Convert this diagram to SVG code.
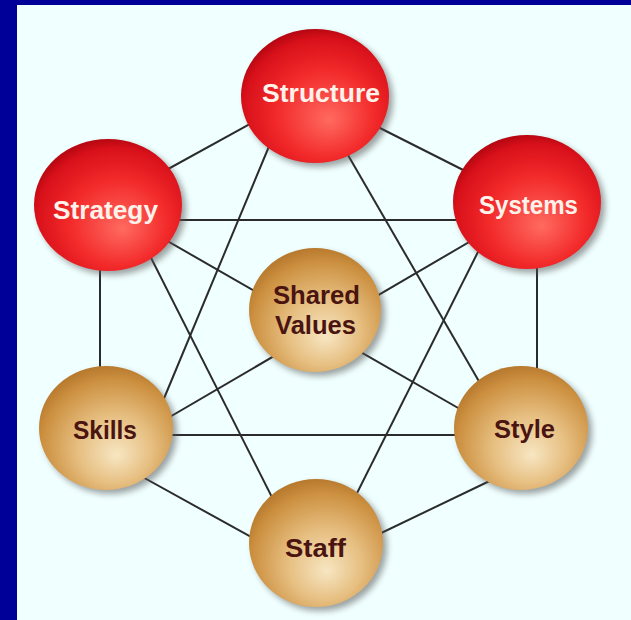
<svg xmlns="http://www.w3.org/2000/svg" width="631" height="620" viewBox="0 0 631 620">
<defs>
<style>
.conn line{stroke:#2b2b2b;stroke-width:2;stroke-linecap:butt}
.lbl{font-family:"Liberation Sans",Arial,sans-serif;font-weight:bold;font-size:26px;text-anchor:middle}
.red text{fill:#FFF2EA}
.brown text{fill:#4A1410}
.shadow{fill:#555;opacity:0.55;filter:url(#blur)}
</style>
<filter id="blur" x="-20%" y="-20%" width="140%" height="140%"><feGaussianBlur stdDeviation="3"/></filter>
<radialGradient id="gRed" cx="55%" cy="60%" r="60%" fx="60%" fy="68%">
<stop offset="0" stop-color="#FF6A60"/>
<stop offset="0.55" stop-color="#F22A2A"/>
<stop offset="0.9" stop-color="#D8101A"/>
<stop offset="1" stop-color="#B80812"/>
</radialGradient>
<radialGradient id="gBrown" cx="55%" cy="62%" r="62%" fx="58%" fy="72%">
<stop offset="0" stop-color="#F7E6C2"/>
<stop offset="0.45" stop-color="#E6BE80"/>
<stop offset="0.85" stop-color="#CC9040"/>
<stop offset="1" stop-color="#B87A2E"/>
</radialGradient>
</defs>
<rect x="0" y="0" width="631" height="620" fill="#000099"/>
<rect x="17" y="5" width="614" height="615" fill="#F0FFFF"/>
<g id="connectors" class="conn">
<line x1="270" y1="113" x2="150" y2="179"/>
<line x1="370" y1="123" x2="485" y2="181"/>
<line x1="150" y1="220" x2="490" y2="220"/>
<line x1="100" y1="240" x2="100" y2="400"/>
<line x1="537" y1="240" x2="537" y2="400"/>
<line x1="140" y1="435" x2="490" y2="435"/>
<line x1="130" y1="470" x2="280" y2="553"/>
<line x1="500" y1="476" x2="350" y2="548"/>
<line x1="280" y1="120" x2="150" y2="432"/>
<line x1="330" y1="124" x2="495" y2="409"/>
<line x1="140" y1="236" x2="285" y2="523"/>
<line x1="490" y1="228" x2="340" y2="527"/>
<line x1="150" y1="231" x2="486" y2="424"/>
<line x1="488" y1="231" x2="144" y2="432"/>
</g>
<g id="structure" class="red">
<ellipse class="shadow" cx="319" cy="100" rx="74" ry="67"/>
<ellipse cx="315" cy="96" rx="74" ry="67" fill="url(#gRed)"/>
<text class="lbl" x="321" y="102" textLength="118" lengthAdjust="spacingAndGlyphs">Structure</text>
</g>
<g id="strategy" class="red">
<ellipse class="shadow" cx="112" cy="209" rx="74" ry="66"/>
<ellipse cx="108" cy="205" rx="74" ry="66" fill="url(#gRed)"/>
<text class="lbl" x="105.5" y="219" textLength="105" lengthAdjust="spacingAndGlyphs">Strategy</text>
</g>
<g id="systems" class="red">
<ellipse class="shadow" cx="531" cy="206" rx="74" ry="67"/>
<ellipse cx="527" cy="202" rx="74" ry="67" fill="url(#gRed)"/>
<text class="lbl" x="528.5" y="214" textLength="99" lengthAdjust="spacingAndGlyphs">Systems</text>
</g>
<g id="shared-values" class="brown">
<ellipse class="shadow" cx="319" cy="314" rx="66" ry="62"/>
<ellipse cx="315" cy="310" rx="66" ry="62" fill="url(#gBrown)"/>
<text class="lbl" x="316.5" y="304" textLength="87" lengthAdjust="spacingAndGlyphs">Shared</text>
<text class="lbl" x="315.5" y="334" textLength="81" lengthAdjust="spacingAndGlyphs">Values</text>
</g>
<g id="skills" class="brown">
<ellipse class="shadow" cx="110" cy="432" rx="67" ry="62"/>
<ellipse cx="106" cy="428" rx="67" ry="62" fill="url(#gBrown)"/>
<text class="lbl" x="105" y="439" textLength="64" lengthAdjust="spacingAndGlyphs">Skills</text>
</g>
<g id="style" class="brown">
<ellipse class="shadow" cx="525" cy="432" rx="67" ry="62"/>
<ellipse cx="521" cy="428" rx="67" ry="62" fill="url(#gBrown)"/>
<text class="lbl" x="524.5" y="438" textLength="61" lengthAdjust="spacingAndGlyphs">Style</text>
</g>
<g id="staff" class="brown">
<ellipse class="shadow" cx="320" cy="547" rx="67" ry="64"/>
<ellipse cx="316" cy="543" rx="67" ry="64" fill="url(#gBrown)"/>
<text class="lbl" x="315.5" y="557" textLength="61" lengthAdjust="spacingAndGlyphs">Staff</text>
</g>
</svg>
